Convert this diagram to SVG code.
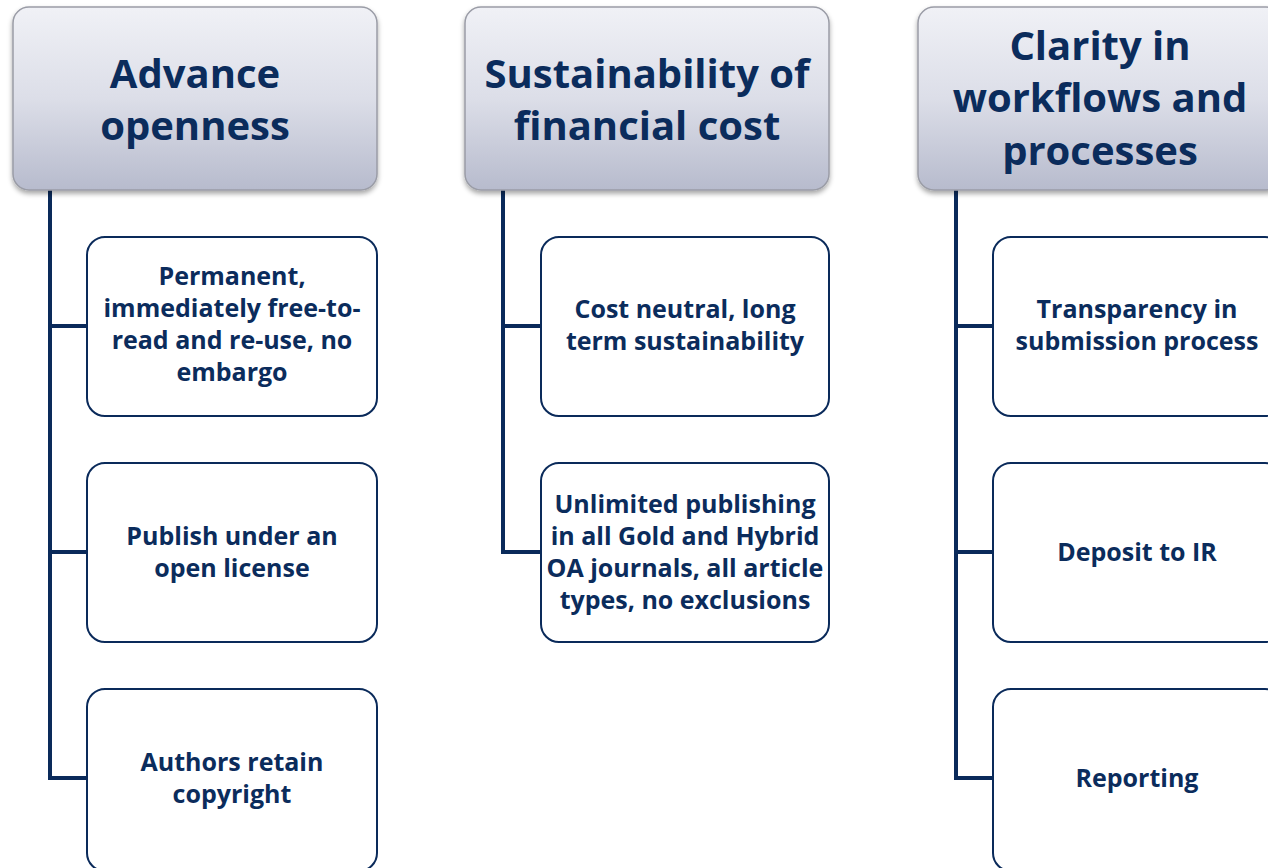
<svg xmlns="http://www.w3.org/2000/svg" width="1268" height="868" viewBox="0 0 1268 868">
<defs>
<linearGradient id="hg" x1="0" y1="0" x2="0" y2="1">
<stop offset="0" stop-color="#f0f1f6"/>
<stop offset="0.5" stop-color="#dcdee8"/>
<stop offset="1" stop-color="#b7bbcd"/>
</linearGradient>
<filter id="sh" x="-10%" y="-10%" width="120%" height="125%">
<feDropShadow dx="0" dy="3" stdDeviation="2.5" flood-color="#000" flood-opacity="0.35"/>
</filter>
</defs>
<style>
.hd{fill:url(#hg);stroke:#9a9ca6;stroke-width:1.5;filter:url(#sh)}
.bx{fill:#fff;stroke:#0a2a5a;stroke-width:2}
.cn{stroke:#0a2a5a;stroke-width:4;fill:none}
.ht{font-family:"Open Sans",Lato,sans-serif;font-weight:bold;font-size:40px;fill:#0b2c5c;text-anchor:middle}
.ct{font-family:"Open Sans",Lato,sans-serif;font-weight:bold;font-size:25px;fill:#0b2c5c;text-anchor:middle}
</style>
<rect width="1268" height="868" fill="#fff"/>
<g id="connectors">
<path class="cn" d="M50 190 V778 M48 326 H87 M48 552 H87 M48 778 H87"/>
<path class="cn" d="M503 190 V552 M501 326 H541 M501 552 H541"/>
<path class="cn" d="M956 190 V778 M954 326 H993 M954 552 H993 M954 778 H993"/>
</g>
<g id="h1"><rect class="hd" x="13" y="7" width="364" height="183" rx="16"/>
<text class="ht" x="195" y="88">Advance</text><text class="ht" x="195" y="140">openness</text></g>
<g id="h2"><rect class="hd" x="465" y="7" width="364" height="183" rx="16"/>
<text class="ht" x="647" y="88">Sustainability of</text><text class="ht" x="647" y="140">financial cost</text></g>
<g id="h3"><rect class="hd" x="918" y="7" width="364" height="183" rx="16"/>
<text class="ht" x="1100" y="60">Clarity in</text><text class="ht" x="1100" y="112">workflows and</text><text class="ht" x="1100" y="165">processes</text></g>
<g id="b11"><rect class="bx" x="87" y="237" width="290" height="179" rx="18"/>
<text class="ct" x="232" y="285">Permanent,</text><text class="ct" x="232" y="317">immediately free-to-</text><text class="ct" x="232" y="349">read and re-use, no</text><text class="ct" x="232" y="381">embargo</text></g>
<g id="b12"><rect class="bx" x="87" y="463" width="290" height="179" rx="18"/>
<text class="ct" x="232" y="545">Publish under an</text><text class="ct" x="232" y="577">open license</text></g>
<g id="b13"><rect class="bx" x="87" y="689" width="290" height="182" rx="18"/>
<text class="ct" x="232" y="771">Authors retain</text><text class="ct" x="232" y="803">copyright</text></g>
<g id="b21"><rect class="bx" x="541" y="237" width="288" height="179" rx="18"/>
<text class="ct" x="685" y="318">Cost neutral, long</text><text class="ct" x="685" y="350">term sustainability</text></g>
<g id="b22"><rect class="bx" x="541" y="463" width="288" height="179" rx="18"/>
<text class="ct" x="685" y="513">Unlimited publishing</text><text class="ct" x="685" y="545">in all Gold and Hybrid</text><text class="ct" x="685" y="577">OA journals, all article</text><text class="ct" x="685" y="609">types, no exclusions</text></g>
<g id="b31"><rect class="bx" x="993" y="237" width="290" height="179" rx="18"/>
<text class="ct" x="1137" y="318">Transparency in</text><text class="ct" x="1137" y="350">submission process</text></g>
<g id="b32"><rect class="bx" x="993" y="463" width="290" height="179" rx="18"/>
<text class="ct" x="1137" y="561">Deposit to IR</text></g>
<g id="b33"><rect class="bx" x="993" y="689" width="290" height="182" rx="18"/>
<text class="ct" x="1137" y="787">Reporting</text></g>
</svg>
